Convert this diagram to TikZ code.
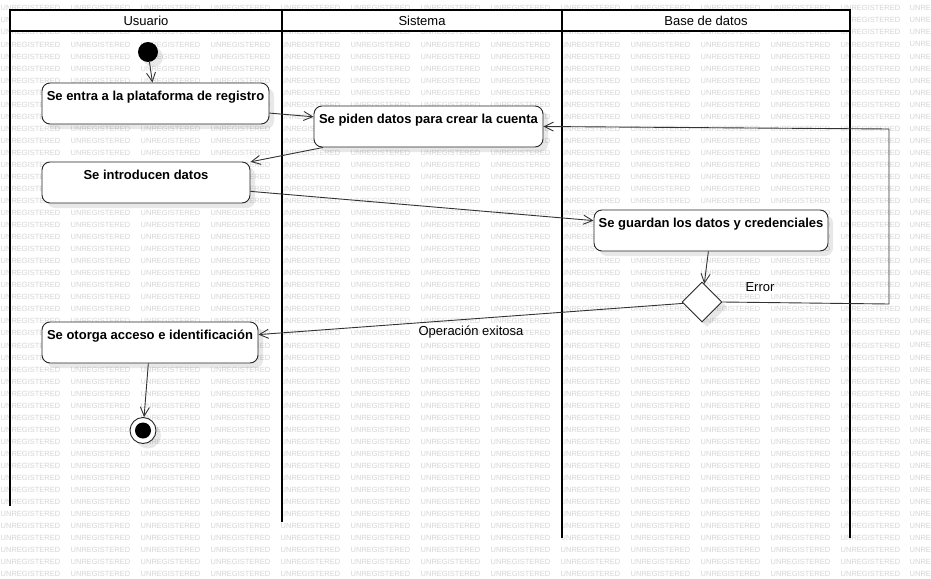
\documentclass[tikz,border=0pt]{standalone}
\usepackage{fontspec}
\setmainfont{Liberation Sans}
\usetikzlibrary{shapes.geometric,arrows.meta,shadows}

\begin{document}
\begin{tikzpicture}[x=1pt,y=-1pt,
  softshadow/.style={drop shadow={shadow xshift=5pt,shadow yshift=-5pt,fill=black,opacity=0.09}},
  lbl/.style={font=\fontsize{13}{15}\selectfont,inner sep=0pt},
  act/.style={draw=black!85,line width=0.9pt,fill=white,rounded corners=8pt,inner sep=3pt,
    minimum height=41pt,text height=14.7pt,text depth=20.3pt,
    font=\fontsize{13}{15}\selectfont\bfseries,softshadow},
  flow/.style={draw=black!80,line width=0.9pt,-{Straight Barb[length=9pt,width=9pt]}},
  lane/.style={line width=1.8pt},
  lanehead/.style={draw,line width=1.8pt,fill=white,minimum height=21pt,inner sep=0pt,
    font=\fontsize{13}{15}\selectfont},
  wm/.style={text=black!17,font=\fontsize{7.5}{8}\selectfont,inner sep=0pt,anchor=west},
]
\useasboundingbox (0,0) rectangle (931,578);

% background watermark grid
\foreach \r in {0,...,47}{
  \foreach \c in {0,...,12}
    \node[wm] (wm-\r-\c) at ({70*\c+0.5},{8.3+12.04*\r}) {UNREGISTERED};
  \node[wm] (wm-\r-13) at (909.5,{8.3+12.04*\r}) {UNRE};
}

% swimlanes
\draw[lane] (10,10) -- (10,506);
\draw[lane] (282,10) -- (282,522);
\draw[lane] (562,10) -- (562,538);
\draw[lane] (850,10) -- (850,538);
\node[lanehead,minimum width=272pt] (hU) at (146,20.5) {Usuario};
\node[lanehead,minimum width=280pt] (hS) at (422,20.5) {Sistema};
\node[lanehead,minimum width=288pt] (hB) at (706,20.5) {Base de datos};

% activity nodes
\node[circle,fill=black,minimum size=20pt,inner sep=0pt,softshadow] (init) at (148,52) {};
\node[act,minimum width=227pt] (b1) at (155.5,103.5) {Se entra a la plataforma de registro};
\node[act,minimum width=229pt] (b2) at (428.5,126.5) {Se piden datos para crear la cuenta};
\node[act,minimum width=208pt] (b3) at (146,182.5) {Se introducen datos};
\node[act,minimum width=234pt] (b4) at (711,230.5) {Se guardan los datos y credenciales};
\node[diamond,aspect=1,draw=black!85,line width=0.9pt,fill=white,minimum width=40pt,
  minimum height=40pt,inner sep=0pt,softshadow] (dec) at (702,302) {};
\node[act,minimum width=216pt] (b5) at (150,342.5) {Se otorga acceso e identificación};
\node[circle,draw=black!85,line width=0.9pt,fill=white,minimum size=26pt,inner sep=0pt,softshadow] (fin) at (143,430.5) {};
\node[circle,fill=black,minimum size=16pt,inner sep=0pt] (finDot) at (fin.center) {};

% control flow
\draw[flow] (init) -- (b1);
\draw[flow] (b1) -- (b2);
\draw[flow] (b2) -- (b3);
\draw[flow] (b3) -- (b4);
\draw[flow] (b4) -- (dec);
\draw[flow] (dec) -- (b5);
\draw[flow] (b5) -- (fin);
\coordinate (e1) at (889,304);
\coordinate (e2) at (889,129);
\draw[flow] (dec.east) -- (e1) -- (e2) -- (b2.east);

% guards
\node[lbl] (lerr) at (760,287) {Error};
\node[lbl] (lok) at (471,332) {Operación exitosa};
\end{tikzpicture}
\end{document}
